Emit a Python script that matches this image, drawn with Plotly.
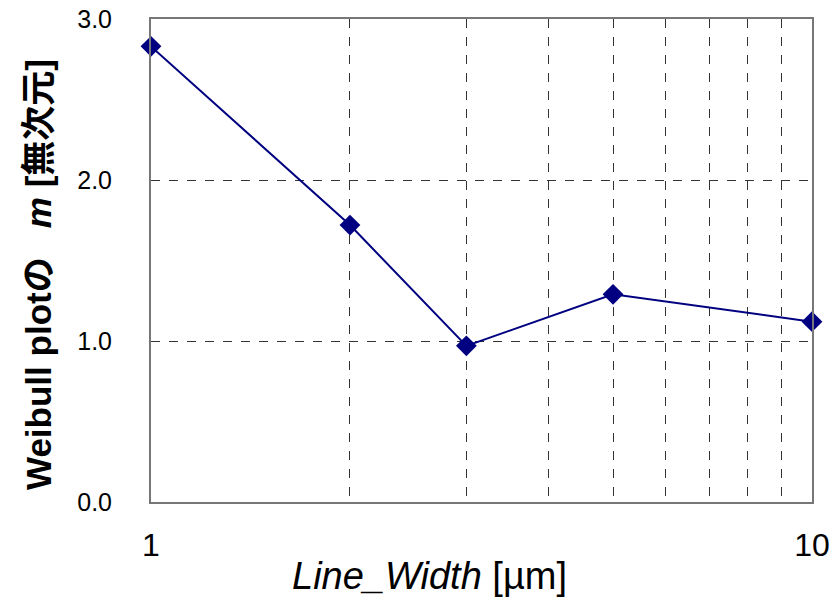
import plotly.graph_objects as go

line_width = [1, 2, 3, 5, 10]
weibull_m = [2.83, 1.72, 0.97, 1.29, 1.12]
x_tickvals = [1, 2, 3, 4, 5, 6, 7, 8, 9, 10]
x_ticktext = ["1", "", "", "", "", "", "", "", "", "10"]
y_tickvals = [0, 1, 2, 3]
y_ticktext = ["0.0", "1.0", "2.0", "3.0"]

L, R, T, B = 151, 24, 19, 98
W, H = 836, 600
pw, ph = W - L - R, H - T - B


def px_to_paper(px, py):
    return (px - L) / pw, (H - B - py) / ph


fig = go.Figure()
fig.add_trace(go.Scatter(
    x=line_width, y=weibull_m, mode="lines+markers",
    line=dict(color="#000080", width=2),
    marker=dict(symbol="diamond", size=16, color="#000080"),
    cliponaxis=False, showlegend=False,
))

xt_x, xt_y = px_to_paper(429, 576)
yt_x, yt_y = px_to_paper(38, 275)

fig.update_layout(
    width=W, height=H,
    margin=dict(l=L, r=R, t=T, b=B, autoexpand=False),
    paper_bgcolor="white", plot_bgcolor="white",
    font=dict(family="Liberation Sans, Arial, sans-serif", color="black"),
    xaxis=dict(
        type="log", range=[0, 1], automargin=False,
        tickvals=x_tickvals, ticktext=x_ticktext,
        showgrid=True, gridcolor="#333333", griddash="dash", gridwidth=1,
        showline=True, mirror=True, linecolor="#777777", linewidth=2,
        ticks="", tickfont=dict(size=32), ticklabelstandoff=14,
        zeroline=False,
    ),
    yaxis=dict(
        range=[0, 3], automargin=False,
        tickvals=y_tickvals, ticktext=y_ticktext,
        showgrid=True, gridcolor="#333333", griddash="dash", gridwidth=1,
        showline=True, mirror=True, linecolor="#777777", linewidth=2,
        ticks="", tickfont=dict(size=25), ticklabelstandoff=32,
        zeroline=False,
    ),
    annotations=[
        dict(
            text="<i>Line_Width</i> [µm]",
            x=xt_x, y=xt_y, xref="paper", yref="paper", showarrow=False,
            xanchor="center", yanchor="middle",
            font=dict(size=38, family="Liberation Sans, Arial, sans-serif"),
        ),
        dict(
            text="<b>Weibull plotの&nbsp;&nbsp;&nbsp;<i>m</i> [無次元]</b>",
            x=yt_x, y=yt_y, xref="paper", yref="paper", showarrow=False,
            xanchor="center", yanchor="middle", textangle=-90,
            font=dict(size=35, family="Liberation Sans, Noto Sans CJK JP, sans-serif"),
        ),
    ],
)

fig.write_html("out.html")
